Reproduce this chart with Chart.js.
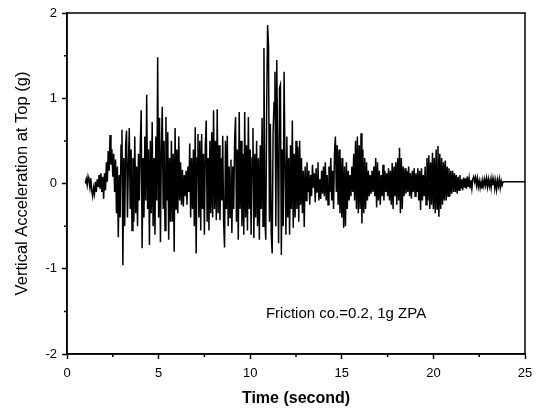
<!DOCTYPE html>
<html>
<head>
<meta charset="utf-8">
<script src="https://cdn.jsdelivr.net/npm/chart.js@4.4.0/dist/chart.umd.min.js"></script>
<style>
html, body { margin: 0; padding: 0; background: #fff; }
#wrap { width: 542px; height: 414px; position: relative; }
</style>
</head>
<body>
<div id="wrap"><canvas id="c"></canvas></div>
<script>
// sampling of the record
const t0 = 1.0;
const dt = 0.05;

// vertical acceleration (g), one row per second
const accel = [
  // 1 s
  0.00, 0.05, -0.02, 0.08, 0.03, -0.05, 0.06, -0.08, -0.15, -0.05, -0.12, 0.02, -0.10, 0.05, -0.04, 0.10, -0.06, 0.12, -0.10, 0.08,
  // 2 s
  -0.18, 0.12, -0.08, 0.25, 0.02, 0.38, 0.15, 0.57, 0.22, 0.40, 0.08, 0.35, -0.10, 0.28, -0.35, 0.20, -0.63, 0.10, -0.40, 0.45,
  // 3 s
  0.63, -0.96, 0.30, -0.50, 0.45, 0.62, -0.40, 0.20, 0.65, -0.30, 0.40, -0.55, 0.30, -0.45, 0.55, -0.35, 0.20, -0.50, 0.35, -0.20,
  // 4 s
  0.45, 0.86, -0.76, 0.30, -0.40, 0.55, -0.20, 1.04, -0.30, 0.40, -0.72, 0.50, -0.35, 0.72, -0.50, 0.30, -0.60, 0.55, -0.20, 1.48,
  // 5 s
  -0.40, 0.77, -0.69, 0.40, 0.90, -0.30, 0.50, -0.55, 0.78, -0.20, 0.60, -0.66, 0.30, -0.45, 0.50, -0.45, 0.35, -0.80, 0.65, -0.30,
  // 6 s
  0.40, -0.35, 0.55, -0.20, 0.25, -0.25, 0.16, -0.27, 0.10, -0.15, 0.15, -0.25, 0.20, -0.10, 0.47, -0.40, 0.30, -0.30, 0.40, -0.50,
  // 7 s
  0.66, -0.82, 0.30, 0.58, -0.40, 0.50, -0.55, 0.58, -0.30, 0.35, -0.60, 0.45, 0.74, -0.45, 0.30, -0.55, 0.50, -0.35, 0.60, -0.40,
  // 8 s
  0.86, -0.30, 0.50, -0.43, 0.87, -0.35, 0.45, -0.43, 0.30, -0.20, 0.56, -0.45, -0.75, 0.50, -0.30, 0.56, -0.50, 0.20, -0.40, 0.28,
  // 9 s
  -0.58, 0.20, -0.30, 0.50, 0.78, -0.45, 0.40, -0.66, 0.84, -0.30, 0.50, -0.50, 0.35, -0.60, 0.84, -0.40, 0.45, -0.55, 0.78, -0.30,
  // 10 s
  0.40, -0.60, 0.30, 0.65, -0.64, 0.35, -0.40, 0.50, -0.50, 0.30, -0.66, 0.45, -0.30, 0.77, -0.50, 1.59, -0.40, -0.66, 0.90, 1.86,
  // 11 s
  1.62, -0.45, 0.70, -0.60, -0.82, 0.60, 0.95, 1.31, -0.50, 1.45, 0.30, -0.70, 1.12, 1.16, -0.84, 0.40, -0.50, 1.31, 0.20, -0.60,
  // 12 s
  0.55, -0.40, 0.30, -0.60, 0.45, -0.30, 0.74, -0.52, 0.35, -0.40, 0.50, -0.30, 0.43, -0.45, 0.50, -0.25, 0.30, -0.35, 0.15, -0.51,
  // 13 s
  0.20, -0.20, 0.25, -0.10, 0.15, -0.25, 0.10, -0.15, 0.22, -0.05, 0.12, -0.22, 0.18, -0.10, 0.25, -0.20, 0.05, -0.18, 0.15, -0.12,
  // 14 s
  0.20, -0.15, 0.25, -0.20, 0.10, -0.25, 0.20, -0.10, 0.30, -0.20, 0.15, -0.30, 0.35, 0.55, -0.10, 0.45, -0.25, 0.40, -0.35, 0.30,
  // 15 s
  -0.40, 0.30, -0.52, 0.20, -0.50, 0.25, -0.30, 0.15, -0.20, 0.10, -0.15, 0.20, -0.10, 0.35, -0.20, 0.50, -0.30, 0.55, -0.35, 0.45,
  // 16 s
  -0.30, 0.59, -0.47, 0.40, -0.35, 0.30, -0.30, 0.25, -0.20, 0.15, -0.15, 0.10, -0.12, 0.15, -0.10, 0.20, -0.15, 0.30, -0.28, 0.25,
  // 17 s
  -0.20, 0.15, -0.25, 0.10, -0.15, 0.22, -0.20, 0.15, -0.10, 0.12, -0.15, 0.18, -0.20, 0.15, -0.25, 0.24, -0.30, 0.20, -0.15, 0.25,
  // 18 s
  -0.25, 0.30, -0.20, 0.42, -0.35, 0.30, -0.30, 0.20, -0.15, 0.18, -0.12, 0.15, -0.10, 0.20, -0.15, 0.12, -0.18, 0.15, -0.10, 0.18,
  // 19 s
  -0.15, 0.12, -0.10, 0.18, -0.20, 0.15, -0.31, 0.18, -0.20, 0.10, -0.15, 0.20, -0.25, 0.30, -0.20, 0.33, -0.30, 0.25, -0.25, 0.36,
  // 20 s
  -0.30, 0.30, -0.35, 0.40, -0.30, 0.44, -0.39, 0.35, -0.30, 0.30, -0.25, 0.25, -0.20, 0.27, -0.20, 0.20, -0.15, 0.18, -0.15, 0.15,
  // 21 s
  -0.12, 0.15, -0.10, 0.12, -0.10, 0.10, -0.12, 0.08, -0.08, 0.10, -0.06, 0.05, -0.08, 0.07, -0.05, 0.06, -0.06, 0.08, -0.04, 0.06,
  // 22 s
  -0.05, 0.04, -0.06, 0.05, 0.08, 0.02, 0.07, -0.02, 0.06, -0.04, 0.03, -0.05, 0.02, -0.06, 0.04, -0.03, 0.05, -0.02, 0.06, -0.04,
  // 23 s
  0.05, -0.03, 0.04, -0.05, 0.06, -0.02, 0.05, -0.06, 0.03, -0.07, 0.04, -0.03, 0.05, -0.05, 0.03, -0.02, 0.02, 0.02, 0.02, 0.02,
  // 24 s
  0.02, 0.02, 0.02, 0.02, 0.02, 0.02, 0.02, 0.02, 0.02, 0.02, 0.02, 0.02, 0.02, 0.02, 0.02, 0.02, 0.02, 0.02, 0.02, 0.02,
  // 25 s
  0.02
];

const xTicks = [0, 5, 10, 15, 20, 25];
const xMinor = [2.5, 7.5, 12.5, 17.5, 22.5];
const yTicks = [-2, -1, 0, 1, 2];
const yMinor = [-1.5, -0.5, 0.5, 1.5];

const xTitle = 'Time (second)';
const yTitle = 'Vertical Acceleration at Top (g)';
const note = 'Friction co.=0.2, 1g ZPA';

const points = accel.map((v, i) => ({ x: +(t0 + i * dt).toFixed(2), y: v }));

const FONT = '"Liberation Sans", Arial, sans-serif';

// box round the plot, short minor ticks and the note
const framePlugin = {
  id: 'frame',
  afterDraw(chart) {
    const { ctx, chartArea: a } = chart;
    const x = chart.scales.x, y = chart.scales.y;
    ctx.save();
    ctx.strokeStyle = '#000';
    ctx.lineWidth = 1.5;
    ctx.strokeRect(a.left, a.top, a.right - a.left, a.bottom - a.top);
    ctx.beginPath();
    xMinor.forEach(v => {
      const px = x.getPixelForValue(v);
      ctx.moveTo(px, a.bottom);
      ctx.lineTo(px, a.bottom + 3);
    });
    yMinor.forEach(v => {
      const py = y.getPixelForValue(v);
      ctx.moveTo(a.left, py);
      ctx.lineTo(a.left - 3, py);
    });
    ctx.stroke();
    ctx.fillStyle = '#000';
    ctx.font = '15px ' + FONT;
    ctx.textBaseline = 'alphabetic';
    ctx.fillText(note, x.getPixelForValue(10.86), y.getPixelForValue(-1.58));
    ctx.restore();
  }
};

new Chart(document.getElementById('c'), {
  type: 'line',
  data: {
    datasets: [{
      data: points,
      borderColor: '#000',
      borderWidth: 1.5,
      pointRadius: 0,
      tension: 0,
      fill: false
    }]
  },
  options: {
    responsive: true,
    maintainAspectRatio: false,
    animation: false,
    layout: { padding: { left: 0, right: 17, top: 13, bottom: 0 } },
    plugins: { legend: { display: false }, tooltip: { enabled: false } },
    scales: {
      x: {
        type: 'linear',
        min: 0,
        max: 25,
        afterBuildTicks: s => { s.ticks = xTicks.map(v => ({ value: v })); },
        afterFit: s => { s.height = 60; },
        grid: { drawOnChartArea: false, tickLength: 5, tickColor: '#000', tickWidth: 1.5 },
        border: { color: '#000', width: 1.5 },
        ticks: { color: '#000', font: { family: FONT, size: 13 }, padding: 7, maxRotation: 0, autoSkip: false },
        title: { display: true, text: xTitle, color: '#000', font: { family: FONT, size: 16, weight: 'bold' }, padding: { top: 0, bottom: 6 } }
      },
      y: {
        type: 'linear',
        min: -2,
        max: 2,
        afterBuildTicks: s => { s.ticks = yTicks.map(v => ({ value: v })); },
        afterFit: s => { s.width = 67; },
        grid: { drawOnChartArea: false, tickLength: 5, tickColor: '#000', tickWidth: 1.5 },
        border: { color: '#000', width: 1.5 },
        ticks: { color: '#000', font: { family: FONT, size: 13 }, padding: 5, autoSkip: false },
        title: { display: true, text: yTitle, color: '#000', font: { family: FONT, size: 16.5 }, padding: { top: 13, bottom: 0 } }
      }
    }
  },
  plugins: [framePlugin]
});
</script>
</body>
</html>
